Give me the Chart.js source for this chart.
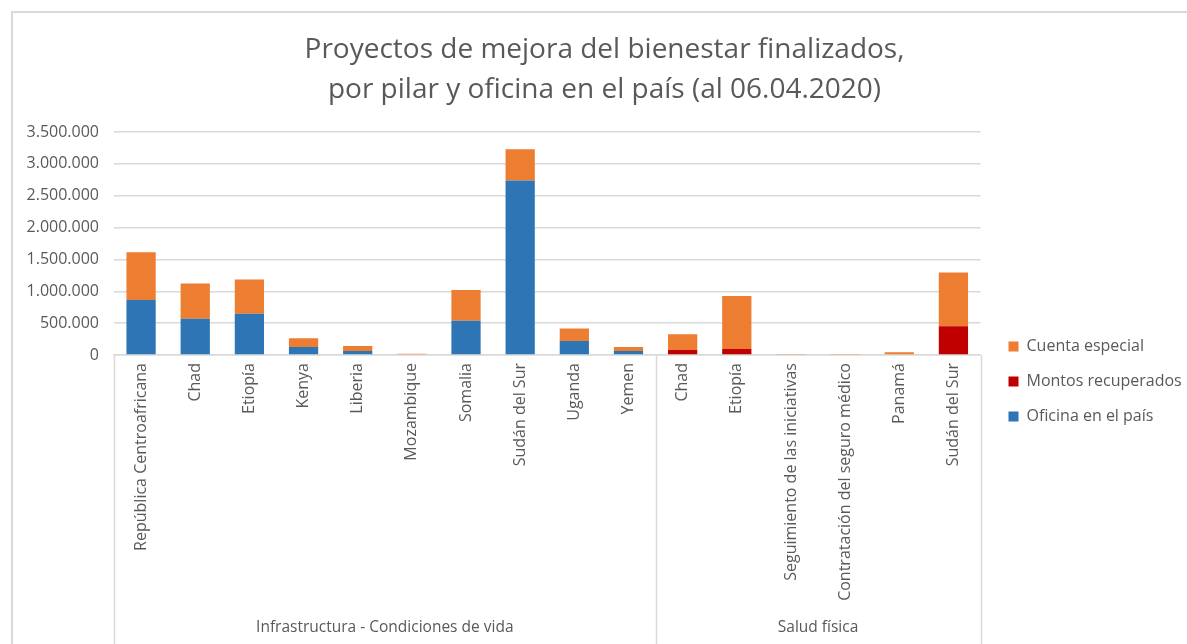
<!DOCTYPE html>
<html><head><meta charset="utf-8">
<script src="https://cdn.jsdelivr.net/npm/chart.js@4.4.0/dist/chart.umd.min.js"></script>
<style>
html,body{margin:0;padding:0;background:#fff;}
#wrap{position:relative;width:1187px;height:644px;overflow:hidden;}
#frame{position:absolute;left:11px;top:11px;width:1300px;height:700px;border-left:2px solid #d9d9d9;border-top:2px solid #d9d9d9;}
canvas{position:absolute;left:0;top:0;}
</style></head><body>
<div id="wrap"><div id="frame"></div><canvas id="c" width="1187" height="644"></canvas></div>
<script>
const categories = ["República Centroafricana","Chad","Etiopía","Kenya","Liberia","Mozambique","Somalia","Sudán del Sur","Uganda","Yemen",
  "Chad","Etiopía","Seguimiento de las iniciativas","Contratación del seguro médico","Panamá","Sudán del Sur"];
const groupNames = ["Infrastructura - Condiciones de vida","Salud física"];
const groupSizes = [10, 6];
const oficinaEnElPais   = [862000,569000,647000,125000,63000,0,538000,2738000,219000,63000, 0,0,0,0,0,0];
const montosRecuperados = [0,0,0,0,0,0,0,0,0,0, 78000,94000,0,0,0,450000];
const cuentaEspecial    = [752000,555000,539000,137000,78000,20000,481000,491000,199000,62000, 246000,831000,15000,15000,45000,846000];
const yTicks = [0,500000,1000000,1500000,2000000,2500000,3000000,3500000];

const FONT = "'Open Sans', 'Noto Sans', sans-serif";
const GREY = '#595959';
const LINE = '#d9d9d9';
function fmt(v){ return String(Math.round(v)).replace(/\B(?=(\d{3})+(?!\d))/g, '.'); }

const groupPlugin = {
  id: 'groups',
  afterDraw(chart){
    const x = chart.scales.x, ctx = chart.ctx;
    const bounds = [x.left];
    let idx = 0;
    groupSizes.forEach((n,i)=>{
      idx += n;
      if (i < groupSizes.length-1) bounds.push((x.getPixelForValue(idx-1)+x.getPixelForValue(idx))/2);
    });
    bounds.push(x.right);
    ctx.save();
    ctx.strokeStyle = LINE; ctx.lineWidth = 1.5;
    bounds.forEach(b=>{
      ctx.beginPath(); ctx.moveTo(Math.round(b)+0.5, x.top); ctx.lineTo(Math.round(b)+0.5, chart.height); ctx.stroke();
    });
    ctx.fillStyle = GREY; ctx.font = "15.5px " + FONT; ctx.textAlign = 'center'; ctx.textBaseline = 'middle';
    groupNames.forEach((g,i)=>{
      ctx.fillText(g, (bounds[i]+bounds[i+1])/2, 628);
    });
    ctx.restore();
  }
};

new Chart(document.getElementById('c'), {
  type: 'bar',
  data: {
    labels: categories,
    datasets: [
      {label:'Oficina en el país', data: oficinaEnElPais, backgroundColor:'#2E75B6'},
      {label:'Montos recuperados', data: montosRecuperados, backgroundColor:'#C00000'},
      {label:'Cuenta especial', data: cuentaEspecial, backgroundColor:'#ED7D31'}
    ]
  },
  options: {
    responsive:false, animation:false,
    layout:{padding:{left:27,right:5,top:0,bottom:0}},
    datasets:{bar:{categoryPercentage:1, barPercentage:0.54}},
    plugins:{
      title:{display:true, text:["Proyectos de mejora del bienestar finalizados,","por pilar y oficina en el país (al 06.04.2020)"],
        color:GREY, font:{family:FONT, size:28, weight:'normal', lineHeight:1.43}, padding:{top:30,bottom:22}},
      legend:{position:'right', reverse:true, align:'center',
        title:{display:true, text:' ', padding:{top:107, bottom:0}, font:{size:10}},
        labels:{boxWidth:10, boxHeight:10, padding:19, color:GREY, font:{family:FONT, size:16}}},
      tooltip:{enabled:false}
    },
    scales:{
      x:{stacked:true, grid:{display:false}, border:{display:true, color:LINE, width:1.5},
        ticks:{autoSkip:false, maxRotation:90, minRotation:90, padding:0, color:GREY, font:{family:FONT, size:16}},
        afterFit(s){ s.height = 289; }},
      y:{stacked:true, min:0, max:3500000, border:{display:false},
        grid:{color:LINE, lineWidth:1.5, drawTicks:false},
        afterBuildTicks(s){ s.ticks = yTicks.map(v=>({value:v})); },
        ticks:{padding:15, color:GREY, font:{family:FONT, size:16}, callback:v=>fmt(v)},
        afterFit(s){ s.width = 87; }},
      y2:{position:'right', display:true, grid:{display:false}, border:{display:false}, ticks:{display:false},
        afterFit(s){ s.width = 9; }}
    }
  },
  plugins:[groupPlugin]
});
</script>
</body></html>
